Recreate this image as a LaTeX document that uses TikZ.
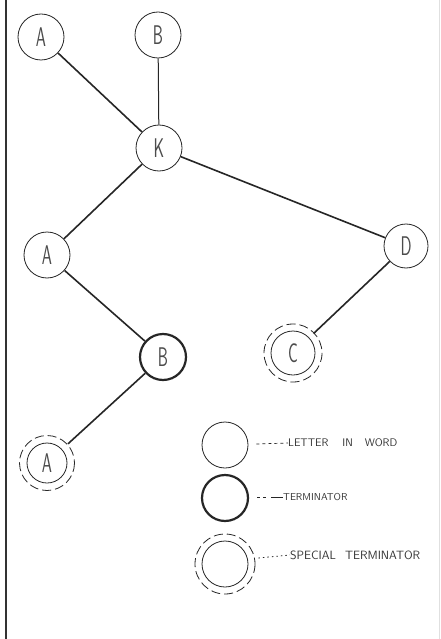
\documentclass[tikz,border=0pt]{standalone}
\begin{document}
\begin{tikzpicture}[x=1pt,y=-1pt,
  ink/.style={draw=black!85},
  letter/.style={circle,ink,line width=0.8pt,minimum size=46pt,inner sep=0pt,
    text=black!70,font=\sffamily\fontsize{27}{27}\selectfont},
  termnode/.style={letter,line width=2.2pt},
  specnode/.style={letter,draw=none,minimum size=56pt},
  ring/.style={ink,line width=0.8pt,dash pattern=on 9pt off 4pt},
  edge/.style={ink,line width=1.6pt},
  thinedge/.style={ink,line width=1pt},
  legtext/.style={anchor=west,inner sep=0pt,text=black!80,font=\sffamily\fontsize{11}{11}\selectfont}
]
\useasboundingbox (0,0) rectangle (441,639);
\fill[white] (0,0) rectangle (441,639);

% page edges
\draw[line width=2.4pt,black!80] (6,0) -- (6,639);
\draw[line width=0.6pt,black!12] (439,0) -- (439,639);

% tree nodes
\node[letter] (a1) at (41,37) {\scalebox{0.6}[1]{A}};
\node[letter] (b1) at (158,35) {\scalebox{0.6}[1]{B}};
\node[letter] (k)  at (159,148) {\scalebox{0.6}[1]{K}};
\node[letter] (a2) at (47,255) {\scalebox{0.6}[1]{A}};
\node[letter,minimum size=44pt] (d) at (406,246) {\scalebox{0.6}[1]{D}};
\node[termnode] (b2) at (163,357) {\scalebox{0.6}[1]{B}};
\node[specnode] (c) at (293,353) {\scalebox{0.6}[1]{C}};
\node[specnode] (a3) at (47,463) {\scalebox{0.6}[1]{A}};

% double rings of the special terminators
\draw[ink,line width=0.8pt] (c.center) circle (22);
\draw[ring] (c.center) circle (29);
\draw[ink,line width=0.8pt] (a3.center) circle (20);
\draw[ring] (a3.center) circle (27.5);

% branches
\draw[edge] (a1) -- (k);
\draw[thinedge] (b1) -- (k);
\draw[edge] (k) -- (a2);
\draw[edge] (k) -- (d);
\draw[edge] (a2) -- (b2);
\draw[edge] (b2) -- (a3);
\draw[edge] (d) -- (c);

% legend
\node[letter] (l1) at (225,445) {};
\node[termnode] (l2) at (225,498) {};
\node[letter] (l3) at (225,564) {};
\draw[ring] (l3.center) circle (30);

\node[legtext] (t1) at (288,443) {LETTER\hspace{14pt}IN\hspace{12pt}WORD};
\node[legtext,font=\sffamily\fontsize{10}{10}\selectfont] (t2) at (283,497) {TERMINATOR};
\node[legtext,font=\sffamily\fontsize{12}{12}\selectfont] (t3) at (290,555) {SPECIAL\hspace{9pt}TERMINATOR};

\draw[ink,line width=0.7pt,dash pattern=on 3pt off 3pt] (l1.east) ++(8,-1) coordinate (l1s) (l1s) -- (t1.west);
\draw[ink,line width=0.7pt,dash pattern=on 3pt off 3pt] (l2.east) ++(8,-1) coordinate (l2s) (l2s) -- ++(12,0);
\draw[ink,line width=0.9pt] (t2.west) ++(-12,0) coordinate (l2e) (l2e) -- (t2.west);
\draw[ink,line width=0.8pt,dash pattern=on 1.5pt off 3pt] (l3.east) ++(10,-6) coordinate (l3s) (l3s) -- (t3.west);
\end{tikzpicture}
\end{document}
